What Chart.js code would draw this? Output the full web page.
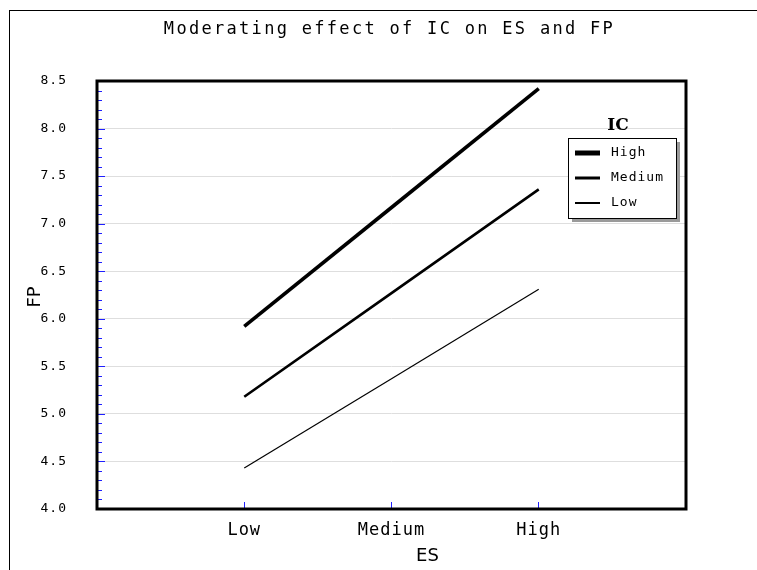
<!DOCTYPE html>
<html>
<head>
<meta charset="utf-8">
<script src="https://cdn.jsdelivr.net/npm/chart.js@4/dist/chart.umd.min.js"></script>
<style>
  html, body { margin: 0; padding: 0; background: #fff; overflow: hidden; }
  #wrap { position: relative; width: 757px; height: 570px; }
  #frame { position: absolute; left: 9px; top: 10px; width: 900px; height: 700px;
           border-top: 1px solid #000; border-left: 1px solid #000; }
  canvas { position: absolute; left: 0; top: 0; }
</style>
</head>
<body>
<div id="wrap">
  <div id="frame"></div>
  <canvas id="chart" width="757" height="570"></canvas>
</div>
<script>
// ES levels on the x axis, one line per IC level
const esLevels = ['Low', 'Medium', 'High'];
const icLevels = ['High', 'Medium', 'Low'];
const fpHighIC = [5.92, 7.17, 8.42];
const fpMediumIC = [5.18, 6.27, 7.36];
const fpLowIC = [4.43, 5.37, 6.31];
const yTicks = [4.0, 4.5, 5.0, 5.5, 6.0, 6.5, 7.0, 7.5, 8.0, 8.5];

const chartTitle = 'Moderating effect of IC on ES and FP';
const xTitle = 'ES';
const yTitle = 'FP';
const legendTitle = 'IC';

const mono = '"DejaVu Sans Mono", monospace';

function points(vals) {
  return vals.map((v, i) => ({ x: i + 1, y: v }));
}

// thick plot border, blue tick marks, titles, legend box
const decorPlugin = {
  id: 'decor',
  beforeDraw(chart) {
    chart.ctx.letterSpacing = '1px';
  },
  afterDraw(chart) {
    const ctx = chart.ctx;
    const a = chart.chartArea;
    const xs = chart.scales.x, ys = chart.scales.y;
    ctx.save();

    // blue ticks on the y axis (minor every 0.1, major every 0.5)
    ctx.strokeStyle = '#1f1fff';
    ctx.lineWidth = 1;
    const lo = yTicks[0], hi = yTicks[yTicks.length - 1];
    for (let k = 0; k <= Math.round((hi - lo) * 10); k++) {
      const v = lo + k / 10;
      const y = Math.round(ys.getPixelForValue(v)) + 0.5;
      const len = (k % 5 === 0) ? 8 : 5;
      ctx.beginPath();
      ctx.moveTo(a.left, y);
      ctx.lineTo(a.left + len, y);
      ctx.stroke();
    }
    // blue ticks on the x axis
    esLevels.forEach((_, i) => {
      const x = Math.floor(xs.getPixelForValue(i + 1)) + 0.5;
      ctx.beginPath();
      ctx.moveTo(x, a.bottom);
      ctx.lineTo(x, a.bottom - 7);
      ctx.stroke();
    });

    // plot border
    ctx.strokeStyle = '#000';
    ctx.lineWidth = 3;
    ctx.strokeRect(a.left, a.top, a.right - a.left, a.bottom - a.top);

    // chart title
    ctx.fillStyle = '#000';
    ctx.letterSpacing = '2.3px';
    ctx.font = '17px ' + mono;
    ctx.textAlign = 'center';
    ctx.textBaseline = 'middle';
    ctx.fillText(chartTitle, (a.left + a.right) / 2 - 2, 30);

    // axis titles
    ctx.letterSpacing = '0px';
    ctx.font = '18px "DejaVu Sans", sans-serif';
    ctx.fillText(xTitle, (a.left + a.right) / 2 + 36, 556);
    ctx.save();
    ctx.translate(35, (a.top + a.bottom) / 2 + 2);
    ctx.rotate(-Math.PI / 2);
    ctx.fillText(yTitle, 0, 0);
    ctx.restore();

    // legend box
    const bx = 568, by = 138, bw = 108, bh = 80;
    ctx.fillStyle = '#9a9a9a';
    ctx.fillRect(bx + 4, by + 4, bw, bh);
    ctx.fillStyle = '#fff';
    ctx.fillRect(bx, by, bw, bh);
    ctx.strokeStyle = '#000';
    ctx.lineWidth = 1;
    ctx.strokeRect(bx + 0.5, by + 0.5, bw, bh);

    ctx.fillStyle = '#000';
    ctx.font = 'bold 17px "DejaVu Serif", serif';
    ctx.fillText(legendTitle, bx + 50, by - 12);

    ctx.font = '13px ' + mono;
    ctx.letterSpacing = '1px';
    ctx.textAlign = 'left';
    const legendWidths = [5, 3, 2];
    chart.data.datasets.forEach((ds, i) => {
      const y = by + 15 + i * 25;
      ctx.lineWidth = legendWidths[i];
      ctx.beginPath();
      ctx.moveTo(bx + 7, y);
      ctx.lineTo(bx + 32, y);
      ctx.stroke();
      ctx.fillText(ds.label, bx + 43, y);
    });
    ctx.restore();
  }
};

new Chart(document.getElementById('chart'), {
  type: 'line',
  data: {
    datasets: [
      { label: icLevels[0], data: points(fpHighIC), borderColor: '#000', borderWidth: 3.6 },
      { label: icLevels[1], data: points(fpMediumIC), borderColor: '#000', borderWidth: 2.6 },
      { label: icLevels[2], data: points(fpLowIC), borderColor: '#000', borderWidth: 1.2 }
    ]
  },
  options: {
    responsive: false,
    animation: false,
    devicePixelRatio: 1,
    layout: { padding: { left: 0, top: 81, right: 71, bottom: 0 } },
    elements: { point: { radius: 0 }, line: { tension: 0 } },
    plugins: {
      legend: { display: false },
      title: { display: false },
      tooltip: { enabled: false }
    },
    scales: {
      x: {
        type: 'linear',
        min: 0,
        max: esLevels.length + 1,
        afterFit: s => { s.height = 61; },
        afterBuildTicks: s => { s.ticks = esLevels.map((_, i) => ({ value: i + 1 })); },
        grid: { display: false },
        border: { display: false },
        ticks: {
          color: '#000',
          padding: 3,
          maxRotation: 0,
          font: { family: mono, size: 17 },
          callback: v => esLevels[v - 1] || ''
        }
      },
      y: {
        min: yTicks[0],
        max: yTicks[yTicks.length - 1],
        afterFit: s => { s.width = 97; },
        afterBuildTicks: s => { s.ticks = yTicks.map(v => ({ value: v })); },
        grid: { color: '#dedede', lineWidth: 1, drawTicks: false },
        border: { display: false },
        ticks: {
          color: '#000',
          padding: 30,
          font: { family: mono, size: 13 },
          callback: v => v.toFixed(1)
        }
      }
    }
  },
  plugins: [decorPlugin]
});
</script>
</body>
</html>
